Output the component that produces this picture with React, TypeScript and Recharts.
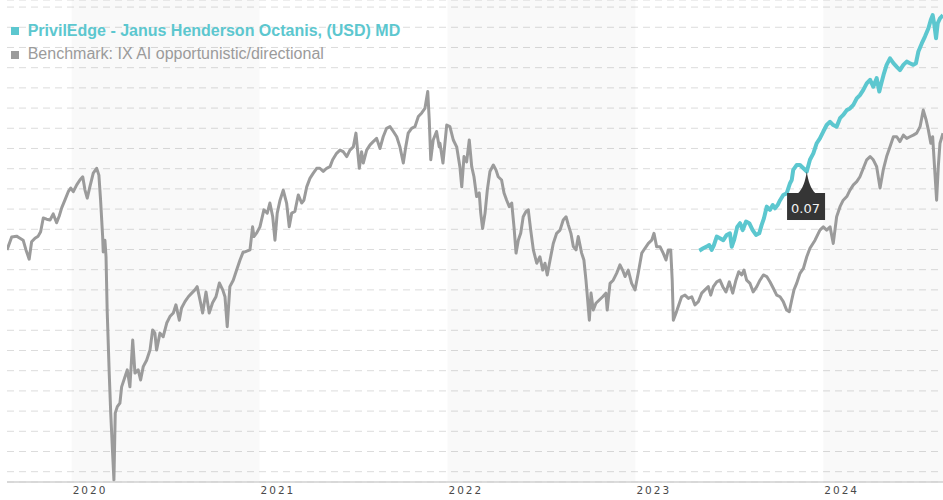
import React from "react";
import {
  LineChart,
  Line,
  XAxis,
  YAxis,
  CartesianGrid,
  ReferenceArea,
  ReferenceDot,
} from "recharts";

// time in decimal years, value as an index level
const benchmarkSeries: [number, number][] = [
  [2019.656, 154.9], [2019.681, 158.1], [2019.707, 158.3], [2019.725, 157.8], [2019.742, 157.3],
  [2019.757, 154.9], [2019.774, 152.6], [2019.787, 156.9], [2019.805, 157.8], [2019.822, 158.3],
  [2019.835, 159.4], [2019.849, 162.8], [2019.867, 162.5], [2019.885, 162.3], [2019.902, 163.8],
  [2019.92, 161.6], [2019.934, 163.3], [2019.947, 165.3], [2019.964, 167.2], [2019.982, 169.3],
  [2019.995, 170.2], [2020.009, 169.3], [2020.027, 171.0], [2020.044, 172.2], [2020.059, 173.0],
  [2020.071, 169.7], [2020.083, 167.7], [2020.097, 170.5], [2020.115, 173.9], [2020.133, 175.1],
  [2020.145, 173.4], [2020.154, 167.2], [2020.165, 158.2], [2020.168, 154.4], [2020.177, 157.3],
  [2020.183, 153.2], [2020.189, 140.0], [2020.2, 124.4], [2020.208, 114.5], [2020.218, 104.6],
  [2020.225, 97.9], [2020.232, 114.5], [2020.243, 116.1], [2020.257, 117.0], [2020.266, 121.0],
  [2020.284, 123.5], [2020.296, 125.2], [2020.31, 121.0], [2020.325, 132.6], [2020.337, 124.4],
  [2020.354, 125.2], [2020.367, 122.7], [2020.381, 126.0], [2020.399, 127.6], [2020.417, 130.1],
  [2020.431, 135.1], [2020.443, 134.3], [2020.452, 130.1], [2020.47, 134.3], [2020.487, 133.4],
  [2020.506, 136.8], [2020.523, 138.4], [2020.541, 139.3], [2020.555, 141.3], [2020.573, 137.5],
  [2020.585, 140.5], [2020.603, 142.1], [2020.621, 143.3], [2020.639, 144.2], [2020.656, 145.0],
  [2020.668, 145.8], [2020.683, 142.5], [2020.697, 139.3], [2020.715, 144.5], [2020.732, 139.3],
  [2020.75, 141.8], [2020.768, 143.3], [2020.786, 146.7], [2020.804, 145.0], [2020.816, 143.3],
  [2020.828, 135.9], [2020.842, 145.8], [2020.86, 147.4], [2020.878, 149.9], [2020.896, 152.4],
  [2020.913, 154.4], [2020.922, 154.4], [2020.949, 154.9], [2020.963, 160.6], [2020.97, 158.2],
  [2020.985, 159.1], [2021.002, 160.6], [2021.023, 164.8], [2021.041, 164.0], [2021.055, 166.5],
  [2021.07, 163.1], [2021.082, 157.3], [2021.094, 164.0], [2021.109, 167.2], [2021.126, 169.7],
  [2021.144, 166.5], [2021.158, 160.6], [2021.171, 164.0], [2021.188, 164.4], [2021.206, 168.5],
  [2021.224, 166.5], [2021.236, 167.2], [2021.251, 170.5], [2021.268, 172.6], [2021.286, 173.9],
  [2021.304, 175.1], [2021.321, 175.1], [2021.339, 174.3], [2021.357, 175.1], [2021.375, 175.5],
  [2021.389, 177.2], [2021.41, 178.8], [2021.428, 179.6], [2021.445, 179.2], [2021.464, 178.0],
  [2021.481, 179.6], [2021.499, 180.4], [2021.513, 183.8], [2021.52, 180.4], [2021.531, 175.1],
  [2021.543, 179.2], [2021.552, 176.4], [2021.57, 179.6], [2021.588, 180.9], [2021.605, 181.7],
  [2021.623, 182.5], [2021.641, 180.0], [2021.658, 182.9], [2021.676, 185.0], [2021.694, 185.4],
  [2021.712, 184.2], [2021.73, 182.9], [2021.747, 180.4], [2021.765, 176.4], [2021.778, 180.4],
  [2021.791, 183.8], [2021.809, 185.0], [2021.827, 185.4], [2021.845, 187.9], [2021.863, 188.8],
  [2021.88, 189.9], [2021.895, 194.1], [2021.903, 187.1], [2021.911, 177.2], [2021.924, 182.1],
  [2021.942, 184.2], [2021.956, 180.4], [2021.96, 181.3], [2021.976, 176.4], [2021.996, 185.8],
  [2022.013, 185.4], [2022.031, 182.1], [2022.049, 180.4], [2022.066, 175.5], [2022.076, 170.5],
  [2022.088, 178.0], [2022.102, 176.7], [2022.116, 182.1], [2022.129, 175.5], [2022.141, 173.0],
  [2022.155, 168.1], [2022.169, 169.0], [2022.177, 164.0], [2022.187, 160.2], [2022.2, 164.0],
  [2022.212, 169.7], [2022.226, 174.3], [2022.244, 175.9], [2022.258, 174.7], [2022.27, 173.0],
  [2022.288, 172.2], [2022.301, 169.0], [2022.315, 167.2], [2022.329, 165.6], [2022.342, 166.5],
  [2022.354, 160.6], [2022.365, 154.1], [2022.377, 157.3], [2022.39, 159.1], [2022.403, 163.1],
  [2022.418, 164.4], [2022.43, 164.8], [2022.443, 159.8], [2022.457, 154.9], [2022.475, 151.6],
  [2022.492, 153.2], [2022.507, 149.9], [2022.519, 151.6], [2022.531, 148.7], [2022.546, 152.4],
  [2022.563, 156.5], [2022.581, 159.0], [2022.599, 159.8], [2022.616, 162.3], [2022.631, 163.1],
  [2022.643, 161.1], [2022.657, 159.0], [2022.67, 155.7], [2022.684, 154.9], [2022.696, 158.2],
  [2022.714, 154.1], [2022.726, 152.4], [2022.737, 147.4], [2022.746, 142.5], [2022.755, 137.5],
  [2022.764, 144.2], [2022.776, 140.0], [2022.79, 141.7], [2022.808, 142.5], [2022.826, 143.3],
  [2022.843, 144.2], [2022.85, 140.0], [2022.865, 146.6], [2022.882, 147.4], [2022.9, 149.1],
  [2022.918, 151.2], [2022.932, 149.9], [2022.945, 148.3], [2022.962, 149.9], [2022.98, 146.6],
  [2022.998, 145.0], [2023.015, 149.1], [2023.034, 154.1], [2023.051, 155.3], [2023.069, 156.5],
  [2023.087, 157.3], [2023.099, 159.0], [2023.113, 155.7], [2023.131, 155.7], [2023.148, 154.1],
  [2023.163, 152.4], [2023.175, 154.9], [2023.188, 154.9], [2023.196, 147.4], [2023.202, 137.5],
  [2023.216, 139.2], [2023.234, 141.7], [2023.246, 143.3], [2023.264, 143.7], [2023.282, 142.9],
  [2023.3, 143.3], [2023.317, 141.3], [2023.335, 142.1], [2023.353, 144.2], [2023.37, 145.0],
  [2023.388, 145.8], [2023.401, 143.7], [2023.415, 145.8], [2023.433, 147.0], [2023.45, 147.4],
  [2023.465, 145.8], [2023.482, 144.5], [2023.5, 147.0], [2023.518, 144.2], [2023.535, 147.4],
  [2023.55, 149.5], [2023.566, 148.7], [2023.578, 149.9], [2023.592, 147.4], [2023.61, 146.6],
  [2023.627, 144.5], [2023.646, 145.8], [2023.663, 147.4], [2023.681, 148.7], [2023.699, 148.3],
  [2023.716, 147.0], [2023.734, 145.4], [2023.752, 143.7], [2023.77, 143.3], [2023.787, 142.1],
  [2023.805, 140.0], [2023.819, 139.6], [2023.832, 142.5], [2023.844, 145.0], [2023.858, 146.6],
  [2023.876, 149.1], [2023.894, 150.3], [2023.912, 153.2], [2023.929, 155.3], [2023.956, 157.3],
  [2023.982, 159.8], [2024.0, 160.6], [2024.018, 159.8], [2024.036, 160.6], [2024.053, 156.5],
  [2024.071, 163.1], [2024.089, 165.6], [2024.106, 167.2], [2024.125, 168.1], [2024.142, 169.7],
  [2024.16, 171.0], [2024.178, 171.8], [2024.195, 173.0], [2024.213, 175.1], [2024.231, 177.2],
  [2024.249, 178.0], [2024.266, 177.2], [2024.284, 175.5], [2024.302, 170.2], [2024.319, 174.7],
  [2024.337, 178.0], [2024.355, 180.4], [2024.373, 182.9], [2024.391, 182.9], [2024.408, 181.7],
  [2024.426, 183.3], [2024.444, 182.5], [2024.461, 182.9], [2024.479, 183.3], [2024.497, 183.8],
  [2024.515, 185.4], [2024.532, 189.5], [2024.547, 187.1], [2024.559, 184.6], [2024.572, 181.3],
  [2024.582, 182.9], [2024.594, 173.9], [2024.603, 167.2], [2024.612, 175.5], [2024.621, 181.3],
  [2024.637, 183.8],
];

const fundSeries: [number, number][] = [
  [2023.34, 154.7], [2023.361, 155.3], [2023.379, 155.7], [2023.393, 156.1], [2023.406, 154.9],
  [2023.418, 156.1], [2023.433, 158.2], [2023.45, 157.8], [2023.468, 157.3], [2023.486, 158.6],
  [2023.503, 159.0], [2023.513, 155.7], [2023.525, 157.3], [2023.542, 160.6], [2023.557, 161.5],
  [2023.571, 159.8], [2023.589, 161.9], [2023.606, 161.5], [2023.624, 159.8], [2023.642, 158.6],
  [2023.659, 159.0], [2023.672, 161.1], [2023.684, 162.7], [2023.699, 165.6], [2023.716, 164.8],
  [2023.731, 166.0], [2023.743, 165.2], [2023.757, 166.0], [2023.77, 167.2], [2023.787, 168.5],
  [2023.805, 168.9], [2023.823, 171.4], [2023.832, 172.2], [2023.84, 174.7], [2023.858, 175.9],
  [2023.876, 175.9], [2023.894, 175.1], [2023.912, 174.3], [2023.929, 177.2], [2023.947, 178.8],
  [2023.965, 181.3], [2023.982, 182.5], [2024.0, 184.2], [2024.018, 185.8], [2024.036, 186.6],
  [2024.053, 185.8], [2024.071, 185.4], [2024.089, 187.5], [2024.106, 188.3], [2024.125, 189.5],
  [2024.142, 189.9], [2024.16, 190.8], [2024.178, 192.4], [2024.195, 193.2], [2024.213, 194.5],
  [2024.231, 196.1], [2024.249, 197.0], [2024.266, 195.3], [2024.284, 197.4], [2024.298, 194.1],
  [2024.311, 196.5], [2024.323, 198.6], [2024.337, 200.7], [2024.355, 202.3], [2024.373, 201.1],
  [2024.391, 200.2], [2024.408, 199.4], [2024.426, 200.7], [2024.444, 201.5], [2024.461, 201.1],
  [2024.479, 200.7], [2024.493, 201.1], [2024.506, 204.0], [2024.524, 206.0], [2024.541, 207.7],
  [2024.559, 209.7], [2024.572, 211.8], [2024.582, 213.0], [2024.591, 210.6], [2024.6, 207.3],
  [2024.609, 211.0], [2024.621, 212.2], [2024.637, 213.0],
];

const yearTicks = [2020, 2021, 2022, 2023, 2024];
const shadedYears: [number, number][] = [
  [2020, 2021],
  [2022, 2023],
  [2024, 2024.637],
];
const gridValues = [
  100, 105, 110, 115, 120, 125, 130, 135, 140, 145, 150, 155, 160, 165, 170, 175,
  180, 185, 190, 195, 200, 205, 210, 215,
];
const xDomain: [number, number] = [2019.656, 2024.637];
const yDomain: [number, number] = [97.45, 216.75];

const tooltipPoint = { t: 2023.912, v: 174.3, label: "0.07" };

const fundName = "PrivilEdge - Janus Henderson Octanis, (USD) MD";
const benchName = "Benchmark: IX AI opportunistic/directional";

const TEAL = "#5cc7cf";
const GREY = "#9b9b9b";

const benchmarkData = benchmarkSeries.map(([t, v]) => ({ t, v }));
const fundData = fundSeries.map(([t, v]) => ({ t, v }));

const XTick = (props: any) => {
  const { x, y, payload } = props;
  return (
    <text
      x={x + 1}
      y={y + 12}
      fill="#4a4a4a"
      fontSize={10.5}
      letterSpacing={2}
      fontFamily="DejaVu Sans, Verdana, sans-serif"
      textAnchor="start"
    >
      {payload.value}
    </text>
  );
};

const TooltipShape = (props: any) => {
  const { cx, cy } = props;
  if (cx == null || cy == null) return null;
  const top = cy + 21.5;
  return (
    <g>
      <path
        d={`M${cx - 9},${top + 0.5} C${cx - 4},${top - 4} ${cx - 1.5},${cy + 10} ${cx},${cy} C${cx + 1.5},${cy + 10} ${cx + 4},${top - 4} ${cx + 9},${top + 0.5} Z`}
        fill="#353535"
      />
      <rect x={cx - 19.7} y={top} width={38} height={27} fill="#353535" />
      <text
        x={cx - 1.2}
        y={top + 20}
        fill="#f2f2f2"
        fontSize={13}
        fontFamily="DejaVu Sans, Verdana, sans-serif"
        textAnchor="middle"
      >
        {tooltipPoint.label}
      </text>
    </g>
  );
};

export default function App() {
  return (
    <div style={{ position: "absolute", left: 0, top: 0, width: 943, height: 500 }}>
      <LineChart
        width={943}
        height={500}
        margin={{ top: 0, right: 0, bottom: 0, left: 7 }}
      >
        {shadedYears.map(([a, b]) => (
          <ReferenceArea
            key={a}
            x1={a}
            x2={b}
            fill="#000"
            fillOpacity={0.025}
            stroke="none"
            ifOverflow="hidden"
          />
        ))}
        <CartesianGrid
          vertical={false}
          stroke="#dcdcdc"
          strokeDasharray="7 5"
        />
        <XAxis
          type="number"
          dataKey="t"
          domain={xDomain}
          ticks={yearTicks}
          interval={0}
          allowDataOverflow
          height={18}
          tickLine={false}
          tickSize={0}
          tickMargin={0}
          axisLine={{ stroke: "#d0d0d0", strokeWidth: 1.5 }}
          tick={<XTick />}
        />
        <YAxis
          type="number"
          hide
          domain={yDomain}
          ticks={gridValues}
          interval={0}
          allowDataOverflow
        />
        <Line
          data={benchmarkData}
          dataKey="v"
          type="linear"
          stroke={GREY}
          strokeWidth={3}
          dot={false}
          activeDot={false}
          isAnimationActive={false}
          strokeLinejoin="round"
        />
        <Line
          data={fundData}
          dataKey="v"
          type="linear"
          stroke={TEAL}
          strokeWidth={4}
          dot={false}
          activeDot={false}
          isAnimationActive={false}
          strokeLinejoin="round"
        />
        <ReferenceDot
          x={tooltipPoint.t}
          y={tooltipPoint.v}
          r={0}
          shape={<TooltipShape />}
        />
      </LineChart>
      <svg
        width={943}
        height={70}
        style={{ position: "absolute", left: 0, top: 0, pointerEvents: "none" }}
      >
        <rect x={11} y={27} width={8} height={8} fill={TEAL} />
        <text
          x={27.7}
          y={35.7}
          fill={TEAL}
          fontSize={16}
          fontWeight="bold"
          fontFamily="Liberation Sans, Arial, sans-serif"
        >
          {fundName}
        </text>
        <rect x={11} y={51} width={8} height={8} fill={GREY} />
        <text
          x={27.7}
          y={59}
          fill={GREY}
          fontSize={16}
          fontFamily="Liberation Sans, Arial, sans-serif"
        >
          {benchName}
        </text>
      </svg>
    </div>
  );
}
